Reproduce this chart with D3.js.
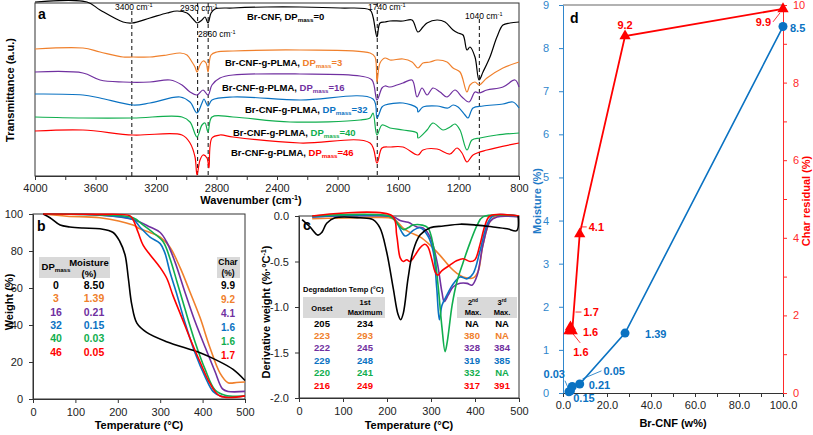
<!DOCTYPE html>
<html><head><meta charset="utf-8">
<script src="https://cdn.jsdelivr.net/npm/d3@7"></script>
<style>body{margin:0;background:#fff}svg{display:block}text{font-family:Arial,"Liberation Sans",sans-serif}</style>
</head><body><svg id="c" width="813" height="435"></svg>
<script>
// ---------------- DATA ----------------
const seriesColors = ["#000000","#F0802C","#7030A0","#0A72C2","#10AE4E","#FF0000"];
const dpMass = [0,3,16,32,40,46];
const moisture = [8.50,1.39,0.21,0.15,0.03,0.05];
const charResidual = [9.9,9.2,4.1,1.6,1.6,1.7];
const onsetT = [205,223,222,229,220,216];
const max1T = [234,293,245,248,241,249];
const max2T = ["NA",380,328,319,332,317];
const max3T = ["NA","NA",384,385,"NA",391];
const brCnf = [100,28.2,7.6,4.2,2.7,3.4];
const peakLabels = ["3400","2930","2860","1740","1040"];
const peakLines = [3360,2925,2855,1737,1062];

// FTIR spectra [wavenumber, transmittance a.u.]
const ftir0 = [[4000,174],[3656,174],[3570,166],[3418,154],[3359,153],[3240,158],[3127,163],[3061,165],[2995,163],[2955,157],[2929,153],[2896,156],[2876,159],[2856,153],[2836,163],[2810,167],[2691,168],[2466,169],[2248,169],[1983,168],[1785,166],[1765,159],[1739,139],[1719,153],[1686,154],[1653,155],[1567,155],[1507,156],[1468,144],[1435,149],[1408,153],[1342,156],[1289,154],[1236,146],[1203,143],[1170,141],[1144,126],[1124,129],[1091,119],[1064,96],[1038,104],[992,119],[946,139],[906,151],[860,153],[800,154]];
const ftir3 = [[4000,127],[3683,128],[3570,124],[3418,119],[3352,119],[3240,119],[3127,121],[3041,123],[2995,121],[2962,114],[2942,109],[2929,104],[2909,111],[2889,115],[2869,113],[2856,104],[2836,121],[2797,124],[2691,125],[2248,126],[1785,123],[1752,119],[1739,94],[1719,113],[1686,118],[1653,116],[1567,117],[1507,114],[1468,108],[1435,113],[1388,114],[1342,116],[1276,114],[1236,108],[1190,104],[1144,84],[1124,91],[1091,94],[1064,91],[1012,98],[906,108],[800,114]];
const ftir16 = [[4000,104],[3683,103],[3570,96],[3418,94],[3240,94],[3107,96],[3028,91],[2975,84],[2929,81],[2889,86],[2856,81],[2830,91],[2777,98],[2691,101],[2248,102],[1851,100],[1772,96],[1739,76],[1706,88],[1686,90],[1653,89],[1607,91],[1567,93],[1507,96],[1474,79],[1441,88],[1408,81],[1369,88],[1322,84],[1276,79],[1223,86],[1177,79],[1130,74],[1091,84],[1064,83],[1012,86],[906,89],[826,96],[800,89]];
const ftir32 = [[4000,82],[3683,81],[3570,78],[3352,71],[3240,73],[3041,79],[2975,74],[2929,63],[2896,73],[2883,77],[2856,70],[2830,76],[2691,79],[2248,76],[1765,77],[1739,58],[1706,69],[1686,71],[1567,73],[1474,68],[1468,64],[1435,69],[1342,70],[1269,68],[1236,71],[1203,69],[1157,61],[1137,58],[1104,68],[1038,70],[906,72],[840,74],[800,68]];
const ftir40 = [[4000,59],[3683,58],[3352,58],[3028,59],[2975,54],[2929,39],[2896,51],[2876,53],[2856,44],[2830,59],[2691,59],[2314,54],[1851,56],[1785,58],[1765,63],[1739,41],[1706,51],[1653,48],[1567,46],[1474,43],[1468,38],[1408,46],[1369,53],[1302,46],[1256,49],[1223,52],[1190,46],[1144,26],[1111,36],[1058,38],[946,41],[800,43]];
const ftir46 = [[4000,45],[3683,46],[3352,41],[3028,41],[2975,33],[2942,19],[2929,1],[2909,16],[2889,21],[2863,18],[2850,8],[2830,38],[2777,41],[2691,39],[2248,33],[1785,33],[1739,13],[1706,28],[1653,29],[1567,29],[1468,21],[1435,26],[1342,27],[1256,22],[1210,28],[1177,23],[1144,14],[1104,21],[1012,26],[800,33]];

// TGA [T degC, weight %]
const tga0 = [[24,100],[40,98],[64,94],[87,93],[118,92.4],[158,92],[189,90],[205,85],[217,78],[225,65],[233,51],[245,41],[268,36],[315,31],[394,25],[433,21],[472,16],[500,10]];
const tga3 = [[24,100],[80,98.8],[158,98],[236,94],[252,92],[276,90],[300,87.5],[323,82],[347,71],[370,58],[394,44],[417,28],[441,14],[460,8.8],[480,8.9],[500,9.2]];
const tga16 = [[24,100],[158,99.5],[236,97],[276,93],[300,90],[315,85],[335,74],[358,58],[382,42],[406,28],[429,15],[447,5.5],[460,4.1],[500,4.1]];
const tga32 = [[24,100],[158,99.4],[236,97],[252,93],[276,87.5],[300,84],[311,79],[323,68.6],[340,56],[358,41.6],[382,25],[406,12],[425,4],[446,1.3],[500,1.6]];
const tga40 = [[24,100],[158,99.5],[236,98],[260,94],[283,90],[307,85],[323,76],[340,63],[358,49],[382,31],[406,16],[429,5],[453,2],[500,1.6]];
const tga46 = [[24,100],[150,99.8],[229,99],[236,97],[248,90],[260,83],[276,78],[300,71],[316,65],[330,56],[351,44],[370,33],[394,20],[417,8.6],[441,1.6],[500,1.7]];

// DTG [T degC, derivative weight]
const dtg0 = [[7,-0.04],[25,-0.12],[43,-0.21],[52,-0.18],[63,-0.08],[82,-0.02],[139,-0.02],[168,-0.04],[184,-0.13],[199,-0.39],[214,-0.79],[225,-1.08],[231,-1.14],[237,-1.07],[248,-0.68],[259,-0.39],[275,-0.21],[298,-0.13],[328,-0.11],[366,-0.09],[404,-0.1],[441,-0.12],[473,-0.14],[495,-0.16],[498,0]];
const dtg3 = [[30,-0.03],[150,-0.02],[214,-0.03],[236,-0.13],[252,-0.18],[275,-0.23],[298,-0.32],[320,-0.43],[343,-0.56],[359,-0.63],[373,-0.67],[396,-0.68],[407,-0.61],[418,-0.32],[434,-0.06],[449,0],[500,0]];
const dtg16 = [[30,-0.01],[214,-0.01],[230,-0.05],[248,-0.07],[268,-0.12],[282,-0.13],[298,-0.23],[314,-0.51],[325,-0.84],[330,-0.94],[339,-0.87],[350,-0.78],[366,-0.74],[382,-0.74],[393,-0.76],[405,-0.65],[418,-0.32],[434,-0.06],[450,-0.01],[500,-0.01]];
const dtg32 = [[30,-0.01],[210,-0.01],[222,-0.07],[234,-0.18],[241,-0.22],[250,-0.2],[259,-0.16],[275,-0.13],[293,-0.22],[305,-0.39],[313,-0.79],[319,-1.14],[325,-0.98],[336,-0.87],[350,-0.75],[366,-0.67],[382,-0.69],[396,-0.63],[411,-0.39],[427,-0.1],[441,0],[500,0]];
const dtg40 = [[30,0],[205,0],[218,-0.05],[230,-0.12],[238,-0.15],[248,-0.13],[259,-0.1],[280,-0.1],[293,-0.13],[305,-0.32],[316,-0.76],[325,-1.23],[332,-1.49],[337,-1.38],[348,-0.98],[359,-0.72],[373,-0.51],[389,-0.29],[405,-0.1],[418,-0.01],[500,0]];
const dtg46 = [[30,0],[212,0],[222,-0.21],[230,-0.46],[237,-0.5],[245,-0.48],[252,-0.5],[264,-0.43],[275,-0.35],[286,-0.31],[293,-0.34],[302,-0.48],[309,-0.61],[315,-0.65],[325,-0.6],[343,-0.54],[359,-0.49],[373,-0.47],[389,-0.5],[400,-0.48],[411,-0.32],[423,-0.1],[434,0],[500,0]];

const ftirData = [ftir0,ftir3,ftir16,ftir32,ftir40,ftir46];
const tgaData = [tga0,tga3,tga16,tga32,tga40,tga46];
const dtgData = [dtg0,dtg3,dtg16,dtg32,dtg40,dtg46];

// ---------------- DRAWING ----------------
const svg = d3.select("#c");
svg.append("rect").attr("width",813).attr("height",435).attr("fill","#fff");
const AX = "#333";
const BLUE = "#0A72C2", RED = "#FF0000";

function rich(g, x, y, parts, size, opt={}){
  const t = g.append("text").attr("x",x).attr("y",y).attr("font-size",size)
    .attr("font-weight", opt.weight||"bold").attr("text-anchor", opt.anchor||"start");
  if(opt.transform) t.attr("transform", opt.transform);
  let shift = 0;
  parts.forEach(p=>{
    const s = t.append("tspan").text(p.t).attr("fill", p.c||opt.fill||"#000");
    const target = p.k==="sub" ? size*0.25 : p.k==="sup" ? -size*0.4 : 0;
    s.attr("dy", target-shift); shift = target;
    if(p.k) s.attr("font-size", size*0.65);
  });
  return t;
}
function styleAxis(g, color){
  g.selectAll("path").attr("stroke", color||AX);
  g.selectAll("line").attr("stroke", color||AX);
  g.selectAll("text").attr("font-family",'Arial,"Liberation Sans",sans-serif').attr("font-size",11).attr("fill",color||"#222");
}
const curve = d3.curveCatmullRom.alpha(0.5);

// ===== Panel a =====
const xA = d3.scaleLinear().domain([4000,800]).range([35,519]);
const yA = d3.scaleLinear().domain([0,173]).range([176,3]);
const gA = svg.append("g");
gA.append("rect").attr("x",35).attr("y",3).attr("width",484).attr("height",173).attr("fill","none").attr("stroke",AX);
const axA = gA.append("g").attr("transform","translate(0,176)")
  .call(d3.axisBottom(xA).tickValues(d3.range(800,4001,200)).tickFormat(d=>d%400===0?d:"").tickSize(4).tickSizeOuter(0).tickPadding(4));
styleAxis(axA);
const dashTop = [11,3,3,3,19];
peakLines.forEach((w,i)=>{
  gA.append("line").attr("x1",xA(w)).attr("x2",xA(w)).attr("y1",dashTop[i]).attr("y2",176)
    .attr("stroke","#222").attr("stroke-width",1.1).attr("stroke-dasharray","4,3");
});
const lineA = d3.line().x(d=>xA(d[0])).y(d=>yA(d[1])).curve(curve);
ftirData.forEach((s,i)=>{
  gA.append("path").attr("d",lineA(s)).attr("fill","none").attr("stroke",seriesColors[i]).attr("stroke-width",1.2);
});
const peakPos = [[115,10],[180,11],[198,37],[368,10],[465,19]];
peakLabels.forEach((p,i)=>{
  rich(gA, peakPos[i][0], peakPos[i][1], [{t:p+" cm"},{t:"-1",k:"sup"}], 8.5, {weight:"normal"});
});
const labA = [[247,20],[225,66],[222,91],[245,113],[233,136],[231,156]];
dpMass.forEach((dp,i)=>{
  const c = i===0 ? "#000" : seriesColors[i];
  rich(gA, labA[i][0], labA[i][1], [
    {t: i===0 ? "Br-CNF, " : "Br-CNF-g-PLMA, "},
    {t:"DP",c:c},{t:"mass",c:c,k:"sub"},{t:"="+dp,c:c}], 9.5);
});
gA.append("text").attr("x",38).attr("y",19).attr("font-size",14).attr("font-weight","bold").text("a");
rich(gA, 251, 204, [{t:"Wavenumber (cm"},{t:"-1",k:"sup"},{t:")"}], 11, {anchor:"middle"});
gA.append("text").attr("transform","translate(14,90) rotate(-90)").attr("text-anchor","middle")
  .attr("font-size",11).attr("font-weight","bold").text("Transmittance (a.u.)");

// ===== Panel b =====
const xB = d3.scaleLinear().domain([0,500]).range([33,245]);
const yB = d3.scaleLinear().domain([0,100]).range([399,214]);
const gB = svg.append("g");
gB.append("rect").attr("x",33).attr("y",214).attr("width",212).attr("height",185).attr("fill","none").attr("stroke",AX);
styleAxis(gB.append("g").attr("transform","translate(0,399)").call(d3.axisBottom(xB).tickValues(d3.range(0,501,100)).tickSize(4).tickSizeOuter(0).tickPadding(5)));
styleAxis(gB.append("g").attr("transform","translate(33,0)").call(d3.axisLeft(yB).tickValues(d3.range(0,101,20)).tickSize(4).tickSizeOuter(0).tickPadding(6)));
const lineB = d3.line().x(d=>xB(d[0])).y(d=>yB(d[1])).curve(curve);
[1,2,3,4,0,5].forEach(i=>{
  gB.append("path").attr("d",lineB(tgaData[i])).attr("fill","none").attr("stroke",seriesColors[i]).attr("stroke-width",1.6);
});
gB.append("text").attr("x",37).attr("y",231).attr("font-size",14).attr("font-weight","bold").text("b");
gB.append("rect").attr("x",39).attr("y",257).attr("width",71).attr("height",21).attr("fill","#d9d9d9");
gB.append("rect").attr("x",217).attr("y",257).attr("width",23).attr("height",21).attr("fill","#d9d9d9");
rich(gB, 56, 270, [{t:"DP"},{t:"mass",k:"sub"}], 9.5, {anchor:"middle"});
rich(gB, 89, 266, [{t:"Moisture"}], 9.5, {anchor:"middle"});
rich(gB, 89, 277, [{t:"(%)"}], 9.5, {anchor:"middle"});
rich(gB, 228, 265, [{t:"Char"}], 8.5, {anchor:"middle"});
rich(gB, 228, 276, [{t:"(%)"}], 8.5, {anchor:"middle"});
dpMass.forEach((dp,i)=>{
  const y = 289 + i*13.3;
  rich(gB, 56, y, [{t:String(dp),c:seriesColors[i]}], 10.5, {anchor:"middle"});
  rich(gB, 94, y, [{t:moisture[i].toFixed(2),c:seriesColors[i]}], 10.5, {anchor:"middle"});
  rich(gB, 228, 289 + i*14, [{t:charResidual[i].toFixed(1),c:seriesColors[i]}], 10, {anchor:"middle"});
});
gB.append("text").attr("x",139).attr("y",429).attr("text-anchor","middle").attr("font-size",11).attr("font-weight","bold").text("Temperature (°C)");
gB.append("text").attr("transform","translate(13,302) rotate(-90)").attr("text-anchor","middle")
  .attr("font-size",11).attr("font-weight","bold").text("Weight (%)");

// ===== Panel c =====
const xC = d3.scaleLinear().domain([0,500]).range([299,519]);
const yC = d3.scaleLinear().domain([-2,0]).range([398,216]);
const gC = svg.append("g");
gC.append("rect").attr("x",299).attr("y",216).attr("width",220).attr("height",182).attr("fill","none").attr("stroke",AX);
styleAxis(gC.append("g").attr("transform","translate(0,398)").call(d3.axisBottom(xC).tickValues(d3.range(0,501,100)).tickSize(4).tickSizeOuter(0).tickPadding(5)));
styleAxis(gC.append("g").attr("transform","translate(299,0)").call(d3.axisLeft(yC).tickValues([-2,-1.5,-1,-0.5,0]).tickFormat(d=>d.toFixed(1)).tickSize(4).tickSizeOuter(0).tickPadding(6)));
const lineC = d3.line().x(d=>xC(d[0])).y(d=>yC(d[1])).curve(curve);
[1,2,3,4,5,0].forEach(i=>{
  gC.append("path").attr("d",lineC(dtgData[i])).attr("fill","none").attr("stroke",seriesColors[i]).attr("stroke-width",1.6);
});
gC.append("text").attr("x",303).attr("y",230).attr("font-size",14).attr("font-weight","bold").text("c");
gC.append("text").attr("x",303).attr("y",292).attr("font-size",7.5).attr("font-weight","bold").text("Degradation Temp (°C)");
gC.append("rect").attr("x",303).attr("y",297).attr("width",82).attr("height",21).attr("fill","#d9d9d9");
gC.append("rect").attr("x",457).attr("y",297).attr("width",60).attr("height",21).attr("fill","#d9d9d9");
rich(gC, 322, 311, [{t:"Onset"}], 7.5, {anchor:"middle"});
rich(gC, 365, 305, [{t:"1st"}], 7.5, {anchor:"middle"});
rich(gC, 365, 315, [{t:"Maximum"}], 7.5, {anchor:"middle"});
rich(gC, 473, 305, [{t:"2"},{t:"nd",k:"sup"}], 7.5, {anchor:"middle"});
rich(gC, 473, 315, [{t:"Max."}], 7.5, {anchor:"middle"});
rich(gC, 502, 305, [{t:"3"},{t:"rd",k:"sup"}], 7.5, {anchor:"middle"});
rich(gC, 502, 315, [{t:"Max."}], 7.5, {anchor:"middle"});
dpMass.forEach((dp,i)=>{
  const y = 326.5 + i*12.4, c = seriesColors[i];
  rich(gC, 322, y, [{t:String(onsetT[i]),c}], 9.5, {anchor:"middle"});
  rich(gC, 365, y, [{t:String(max1T[i]),c}], 9.5, {anchor:"middle"});
  rich(gC, 472, y, [{t:String(max2T[i]),c}], 9.5, {anchor:"middle"});
  rich(gC, 502, y, [{t:String(max3T[i]),c}], 9.5, {anchor:"middle"});
});
gC.append("text").attr("x",409).attr("y",429).attr("text-anchor","middle").attr("font-size",11).attr("font-weight","bold").text("Temperature (°C)");
rich(gC, 0, 0, [{t:"Derivative weight (%·°C"},{t:"-1",k:"sup"},{t:")"}], 11, {anchor:"middle", transform:"translate(270,312) rotate(-90)"});

// ===== Panel d =====
const xD = d3.scaleLinear().domain([0,100]).range([563,783]);
const yDm = d3.scaleLinear().domain([0,9]).range([393,5]);
const yDc = d3.scaleLinear().domain([0,10]).range([393,5]);
const gD = svg.append("g");
gD.append("line").attr("x1",563).attr("x2",783).attr("y1",5).attr("y2",5).attr("stroke","#666").attr("stroke-width",1.2);
styleAxis(gD.append("g").attr("transform","translate(0,393)").call(d3.axisBottom(xD).tickValues(d3.range(0,101,10)).tickFormat(d=>d%20===0?d.toFixed(1):"").tickSize(4).tickSizeOuter(0).tickPadding(4)));
const axDl = gD.append("g").attr("transform","translate(563,0)").call(d3.axisLeft(yDm).tickValues(d3.range(0,10,1)).tickSize(4).tickSizeOuter(0).tickPadding(10));
styleAxis(axDl, "#2F86CC");
const axDr = gD.append("g").attr("transform","translate(783,0)").call(d3.axisRight(yDc).tickValues(d3.range(0,11,1)).tickFormat(d=>d%2===0?d:"").tickSize(4).tickSizeOuter(0).tickPadding(6));
styleAxis(axDr, "#FF2A2A");
const lineD = d3.line();
const mPts = brCnf.map((x,i)=>[xD(x), yDm(moisture[i])]);
const cPts = brCnf.map((x,i)=>[xD(x), yDc(charResidual[i])]);
gD.append("path").attr("d",lineD(mPts)).attr("fill","none").attr("stroke",BLUE).attr("stroke-width",1.6);
gD.append("path").attr("d",lineD(cPts)).attr("fill","none").attr("stroke",RED).attr("stroke-width",1.8);
gD.selectAll("circle.m").data(mPts).join("circle").attr("cx",d=>d[0]).attr("cy",d=>d[1]).attr("r",4.5).attr("fill",BLUE);
gD.selectAll("path.t").data(cPts).join("path").attr("d",d3.symbol(d3.symbolTriangle,55)).attr("transform",d=>`translate(${d[0]},${d[1]})`).attr("fill",RED);
// annotations (label offsets in px from each point)
const mLab = [[7,5,"start"],[20,5,"start"],[9,5,"start"],[1,15,"start"],[-4,-14,"end"],[33,-16,"start"]];
mPts.forEach((p,i)=>{
  rich(gD, p[0]+mLab[i][0], p[1]+mLab[i][1], [{t: i===0? "8.5" : moisture[i].toFixed(2), c:BLUE}], 11, {anchor:mLab[i][2]});
});
const mLead = [[4,[[-4,-11],[0,-2]]],[5,[[12,-12],[31,-20]]]];
mLead.forEach(([i,seg])=>{
  gD.append("line").attr("x1",mPts[i][0]+seg[0][0]).attr("y1",mPts[i][1]+seg[0][1]).attr("x2",mPts[i][0]+seg[1][0]).attr("y2",mPts[i][1]+seg[1][1]).attr("stroke",BLUE).attr("stroke-width",0.8);
});
const cLab = [[-12,17,"end"],[0,-7,"middle"],[9,-3,"start"],[1,25,"start"],[14,5,"start"],[13,-11,"start"]];
cPts.forEach((p,i)=>{
  rich(gD, p[0]+cLab[i][0], p[1]+cLab[i][1], [{t:charResidual[i].toFixed(1), c:RED}], 11, {anchor:cLab[i][2]});
});
const cLead = [[0,[[-10,13],[-3,4]]],[2,[[1,-7],[7,-7]]],[3,[[0,2],[8,12]]],[5,[[5,-15],[11,-15]]]];
cLead.forEach(([i,seg])=>{
  gD.append("line").attr("x1",cPts[i][0]+seg[0][0]).attr("y1",cPts[i][1]+seg[0][1]).attr("x2",cPts[i][0]+seg[1][0]).attr("y2",cPts[i][1]+seg[1][1]).attr("stroke",RED).attr("stroke-width",0.8);
});
gD.append("text").attr("x",570).attr("y",23).attr("font-size",14).attr("font-weight","bold").text("d");
gD.append("text").attr("x",673).attr("y",427).attr("text-anchor","middle").attr("font-size",11).attr("font-weight","bold").text("Br-CNF (w%)");
gD.append("text").attr("transform","translate(541,201) rotate(-90)").attr("text-anchor","middle")
  .attr("font-size",11).attr("font-weight","bold").attr("fill","#1F7BC8").text("Moisture (%)");
gD.append("text").attr("transform","translate(810,201) rotate(-90)").attr("text-anchor","middle")
  .attr("font-size",11).attr("font-weight","bold").attr("fill",RED).text("Char residual (%)");
</script></body></html>
